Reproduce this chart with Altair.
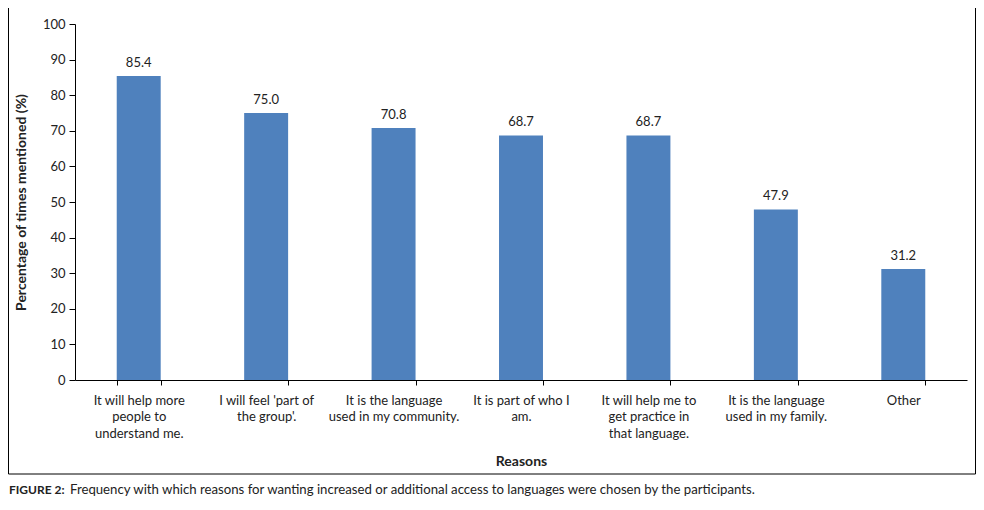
import json
import altair as alt
import pandas as pd

categories = [
    "It will help more people to understand me.",
    "I will feel 'part of the group'.",
    "It is the language used in my community.",
    "It is part of who I am.",
    "It will help me to get practice in that language.",
    "It is the language used in my family.",
    "Other",
]
label_lines = [
    ["It will help more", "people to", "understand me."],
    ["I will feel 'part of", "the group'."],
    ["It is the language", "used in my community."],
    ["It is part of who I", "am."],
    ["It will help me to", "get practice in", "that language."],
    ["It is the language", "used in my family."],
    ["Other"],
]
values = [85.4, 75.0, 70.8, 68.7, 68.7, 47.9, 31.2]
y_ticks = list(range(0, 101, 10))
x_title = "Reasons"
y_title = "Percentage of times mentioned (%)"
caption_bold = "FIGURE 2:"
caption_rest = ("Frequency with which reasons for wanting increased or additional access "
                "to languages were chosen by the participants.")

FONT = "Lato"
BLUE = "#4F81BD"
INK = "#222222"

df = pd.DataFrame({"reason": categories, "value": values,
                   "label": [f"{v:.1f}" for v in values]})

expr = ""
for c, lines in zip(categories, label_lines):
    expr += f"datum.label == {json.dumps(c)} ? {json.dumps(lines)} : "
expr += "datum.label"

x_enc = alt.X("reason:N", sort=categories, title=x_title,
              scale=alt.Scale(paddingInner=0.655, paddingOuter=0.3275),
              axis=alt.Axis(labelAngle=0, labelExpr=expr, tickBand="extent",
                            labelFont=FONT, labelFontSize=13, labelColor=INK,
                            labelLineHeight=16.5, labelPadding=9, labelBaseline="top",
                            tickSize=5, tickColor="#000", domainColor="#000",
                            titleFont=FONT, titleFontSize=14, titleFontWeight="bold",
                            titleColor=INK, titlePadding=14, grid=False))
y_enc = alt.Y("value:Q", title=y_title,
              scale=alt.Scale(domain=[0, 100], nice=False),
              axis=alt.Axis(values=y_ticks, grid=False, tickSize=6,
                            tickColor="#000", domainColor="#000",
                            labelFont=FONT, labelFontSize=13, labelColor=INK,
                            labelPadding=4, labelOverlap=False,
                            titleFont=FONT, titleFontSize=14, titleFontWeight="bold",
                            titleColor=INK, titlePadding=14))

base = alt.Chart(df).encode(x=x_enc, y=y_enc)
bars = base.mark_bar(color=BLUE)
text = base.mark_text(baseline="bottom", dy=-6, font=FONT,
                      fontSize=13, color=INK).encode(text="label:N")

one = pd.DataFrame({"a": [0]})
border = alt.Chart(one).mark_rect(fill=None, stroke="#000", strokeWidth=1).encode(
    x=alt.value(-66.5), x2=alt.value(900.5), y=alt.value(-18), y2=alt.value(450))

cap1 = alt.Chart(pd.DataFrame({"t": [caption_bold]})).mark_text(
    align="left", baseline="middle", font=FONT, fontSize=12,
    fontWeight="bold", color=INK).encode(
    x=alt.value(-66), y=alt.value(466), text="t:N")
cap2 = alt.Chart(pd.DataFrame({"t": [caption_rest]})).mark_text(
    align="left", baseline="middle", font=FONT, fontSize=13.2,
    color=INK).encode(
    x=alt.value(-5), y=alt.value(466), text="t:N")

chart = alt.layer(bars, text, border, cap1, cap2).properties(
    width=892, height=356,
    autosize=alt.AutoSizeParams(type="none"),
    padding={"left": 67, "top": 16, "right": 9, "bottom": 122},
).configure_view(stroke=None)

chart.save("out.html", embed_options={"renderer": "svg", "actions": False})
